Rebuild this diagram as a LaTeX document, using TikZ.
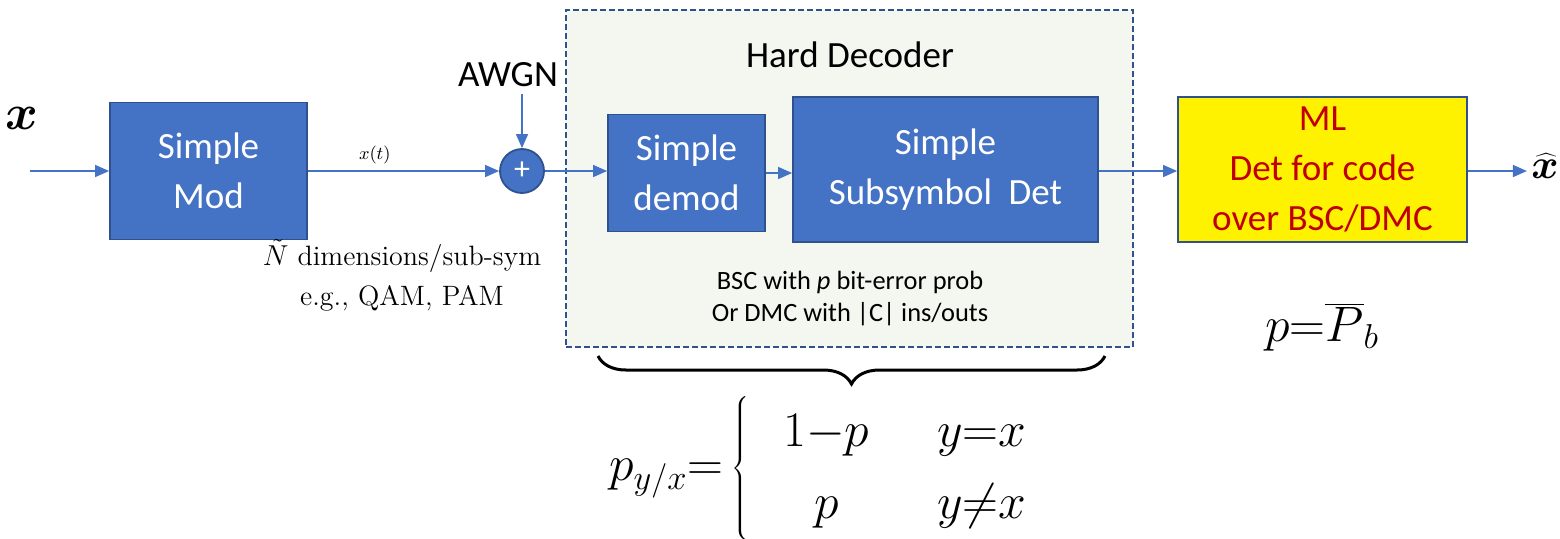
\documentclass[tikz,border=0pt]{standalone}
\usepackage{fontspec}
\usepackage{bm}
\setsansfont{Carlito}
\usetikzlibrary{arrows.meta,positioning,decorations.pathreplacing}
\definecolor{boxblue}{HTML}{4472C4}
\definecolor{edgeblue}{HTML}{2F528F}
\definecolor{hdgreen}{HTML}{F3F7EF}
\definecolor{mlred}{HTML}{C00000}

\begin{document}
\begin{tikzpicture}[x=0.5pt, y=-0.5pt, blk/.style={draw=edgeblue, line width=0.9pt, fill=boxblue, text=white, align=center, inner sep=0pt, font=\sffamily\fontsize{18.5}{25}\selectfont}, arr/.style={-{Triangle[length=7pt,width=6pt]}, draw=boxblue, line width=0.75pt}, lbl/.style={align=center, font=\fontsize{14}{20}\selectfont}]
    \useasboundingbox (0,0) rectangle (1560,538);
    % hard decoder frame
    \node[draw=edgeblue, line width=1pt, dash pattern=on 3pt off 1.5pt, fill=hdgreen, minimum width=283.5pt, minimum height=168.5pt, inner sep=0pt] (hd) at (849.5,178.5) {};
    \node[font=\sffamily\fontsize{18.5}{25}\selectfont] (hdtitle) at (850,55) {Hard Decoder};
    \node[font=\sffamily\fontsize{13.2}{16}\selectfont, align=center] (bsc) at (850,298) {BSC with \textit{p} bit-error prob\\Or DMC with \textbar C\textbar{} ins/outs};

    \node[font=\fontsize{28}{30}\selectfont, inner sep=0pt] (xin) at (22,118) {$\bm{x}$};
    \coordinate (src) at (30,171);
    \node[blk, minimum width=98.5pt, minimum height=68.5pt] (mod) at (208.5,171) {Simple\\Mod};
    \node[blk, circle, minimum size=22pt, font=\sffamily\fontsize{16}{16}\selectfont] (sum) at (522,171) {+};
    \node[font=\sffamily\fontsize{18.5}{25}\selectfont] (awgn) at (508,75) {AWGN};
    \node[blk, minimum width=78.5pt, minimum height=58.5pt] (demod) at (686.5,173) {Simple\\demod};
    \node[blk, minimum width=152.5pt, minimum height=72.5pt] (subdet) at (945.5,169.5) {Simple\\Subsymbol\ \ Det};
    \node[blk, fill=yellow, text=mlred, minimum width=144.5pt, minimum height=72.5pt] (mldet) at (1322.5,169.5) {ML\\Det for code\\over BSC/DMC};
    \node[font=\fontsize{22}{24}\selectfont, inner sep=0pt] (xhat) at (1545,166) {$\bm{\widehat{x}}$};

    \node[lbl] (dims) at (402,275) {$\tilde{N}$ dimensions/sub-sym\\e.g., QAM, PAM};
    \node[font=\fontsize{27}{30}\selectfont] (pb) at (1322,327) {$p{=}\overline{P}_{b}$};

    \draw[arr] (src) -- (mod);
    \draw[arr] (mod) -- node[above, pos=.35, font=\fontsize{9}{10}\selectfont] (xt) {$x(t)$} (sum);
    \draw[arr] (awgn.south -| sum) -- (sum);
    \draw[arr] (sum) -- (sum -| demod.west);
    \draw[arr] (demod) -- (demod -| subdet.west);
    \draw[arr] (subdet.east |- sum) -- (mldet.west |- sum);
    \draw[arr] (mldet.east |- sum) -- ([xshift=-2pt]xhat.west |- sum);

    % channel law under the brace
    \coordinate (bl) at (598,356);
    \coordinate (br) at (1105,356);
    \draw[decorate, decoration={brace, mirror, amplitude=14pt}, line width=1.5pt] (bl) -- (br);
    \node[font=\fontsize{26}{30}\selectfont] (law) at (836,468) {\arraycolsep=17pt\def\arraystretch{1.2}$p_{y/x}{=}\left\{\begin{array}{cc}1{-}p & y{=}x\\ p & y{\neq}x\end{array}\right.$};
  \end{tikzpicture}
\end{document}
